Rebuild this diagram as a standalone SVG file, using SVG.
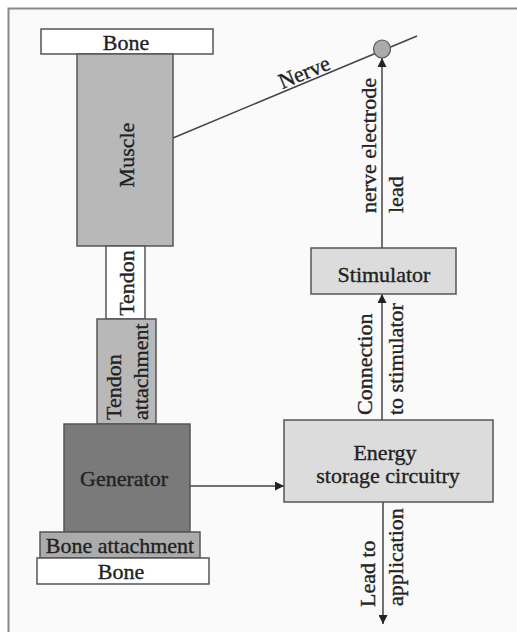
<svg xmlns="http://www.w3.org/2000/svg" width="517" height="632" viewBox="0 0 517 632">
<style>
.bx{stroke:#555;stroke-width:1.5}
.t{font-family:"Liberation Serif","Times New Roman",serif;font-size:22px;fill:#222;stroke:#222;stroke-width:0.35}
.c{text-anchor:middle}
.ln{stroke:#444;stroke-width:1.5;fill:none}
</style>
<defs>
<marker id="ah" viewBox="0 0 10 10" refX="10" refY="5" markerWidth="9" markerHeight="9" markerUnits="userSpaceOnUse" orient="auto">
<path d="M0,0 L10,5 L0,10 Z" fill="#222"/>
</marker>
</defs>
<rect x="0" y="0" width="517" height="632" fill="#ffffff"/>
<rect x="8.5" y="8.5" width="520" height="640" fill="#fafafa" stroke="#888" stroke-width="2"/>
<g id="connectors">
<line class="ln" x1="173" y1="138" x2="417" y2="36"/>
<line class="ln" x1="382" y1="248" x2="382" y2="58" marker-end="url(#ah)"/>
<line class="ln" x1="382" y1="420" x2="382" y2="294" marker-end="url(#ah)"/>
<line class="ln" x1="383" y1="502" x2="383" y2="624" marker-end="url(#ah)"/>
<line class="ln" x1="190" y1="486" x2="284" y2="486" marker-end="url(#ah)"/>
<text class="t c" transform="translate(307,79) rotate(-22.7)">Nerve</text>
<text class="t" transform="translate(376,213) rotate(-90)">nerve electrode</text>
<text class="t" transform="translate(403,213) rotate(-90)">lead</text>
<text class="t" transform="translate(372,415) rotate(-90)">Connection</text>
<text class="t" transform="translate(403,415) rotate(-90)">to stimulator</text>
<text class="t" transform="translate(375,607) rotate(-90)">Lead to</text>
<text class="t" transform="translate(403,606) rotate(-90)">application</text>
</g>
<g id="bone-top"><rect class="bx" x="41" y="29" width="172" height="25" fill="#fff"/><text class="t c" x="126" y="50">Bone</text></g>
<g id="muscle"><rect class="bx" x="77" y="54" width="96" height="192" fill="#b8b8b8"/><text class="t c" transform="translate(134,155) rotate(-90)">Muscle</text></g>
<g id="tendon"><rect class="bx" x="106" y="246" width="39" height="73" fill="#fff"/><text class="t c" transform="translate(134,283) rotate(-90)">Tendon</text></g>
<g id="tendon-attachment"><rect class="bx" x="97" y="319" width="59" height="105" fill="#b8b8b8"/><text class="t" transform="translate(121,420) rotate(-90)">Tendon</text><text class="t" transform="translate(148,420) rotate(-90)">attachment</text></g>
<g id="generator"><rect class="bx" x="64" y="424" width="126" height="108" fill="#7a7a7a"/><text class="t c" x="124" y="486">Generator</text></g>
<g id="bone-attachment"><rect class="bx" x="40" y="532" width="160" height="26" fill="#ababab"/><text class="t c" x="120" y="553">Bone attachment</text></g>
<g id="bone-bottom"><rect class="bx" x="37" y="558" width="172" height="26" fill="#fff"/><text class="t c" x="121" y="579">Bone</text></g>
<g id="electrode"><ellipse cx="382" cy="49" rx="8.5" ry="9" fill="#aaa" stroke="#555" stroke-width="1.2"/></g>
<g id="stimulator"><rect class="bx" x="311" y="248" width="145" height="46" fill="#dcdcdc"/><text class="t c" x="384" y="282">Stimulator</text></g>
<g id="energy"><rect class="bx" x="284" y="420" width="209" height="82" fill="#dcdcdc"/><text class="t c" x="385" y="460">Energy</text><text class="t c" x="388" y="483">storage circuitry</text></g>
</svg>
